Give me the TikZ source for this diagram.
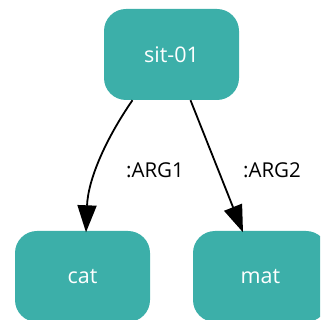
\documentclass[tikz,border=0pt]{standalone}
\usepackage{fontspec}
\setmainfont{Open Sans}
\usetikzlibrary{arrows.meta,calc}
\definecolor{teal1}{HTML}{3CAFA9}
\tikzset{
  amr/.style={draw=none,fill=teal1,rounded corners=22pt,minimum width=135pt,minimum height=91pt,text=white,font=\fontsize{21.5}{25}\selectfont,inner sep=0pt},
  rel/.style={line width=1.8pt,-{Triangle[length=27pt,width=19pt]}},
  lbl/.style={font=\fontsize{20.5}{24}\selectfont,text=black}
}
\begin{document}
\begin{tikzpicture}[x=1pt,y=1pt]
\useasboundingbox (0,0) rectangle (320,320);
\clip (0,0) rectangle (320,320);
\node[amr] (sit) at (171.5,265.5) {sit-01};
\node[amr] (cat) at (82.5,43.5) {cat};
\node[amr] (mat) at (260.5,43.5) {mat};
\coordinate (s1) at ($(sit.south)+(-39,0)$);
\coordinate (s2) at ($(sit.south)+(19,0)$);
\coordinate (t1) at ($(cat.north)+(3.5,-1.5)$);
\coordinate (t2) at ($(mat.north)+(-17.5,-1.5)$);
\draw[rel] (s1) .. controls (105,180) and (88,140) .. (t1);
\draw[rel] (s2) -- (t2);
\node[lbl] (l1) at (155,150) {:ARG1};
\node[lbl] (l2) at (272,150) {:ARG2};
\end{tikzpicture}
\end{document}
